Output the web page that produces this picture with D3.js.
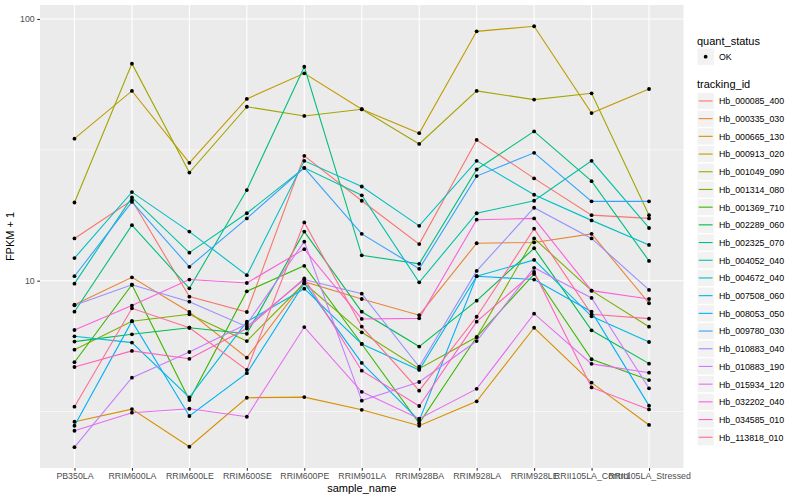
<!DOCTYPE html>
<html>
<head>
<meta charset="utf-8">
<script src="https://cdn.jsdelivr.net/npm/d3@7/dist/d3.min.js"></script>
<style>
  html, body { margin: 0; padding: 0; background: #ffffff; }
  svg { display: block; font-family: "Liberation Sans", Arial, Helvetica, sans-serif; }
</style>
</head>
<body>
<svg id="chart" width="800" height="500"></svg>
<script>
// ---------------- data ----------------
const samples = ["PB350LA", "RRIM600LA", "RRIM600LE", "RRIM600SE", "RRIM600PE", "RRIM901LA",
                 "RRIM928BA", "RRIM928LA", "RRIM928LE", "RRII105LA_Control", "RRII105LA_Stressed"];

const trackingIds = ["Hb_000085_400", "Hb_000335_030", "Hb_000665_130", "Hb_000913_020", "Hb_001049_090",
                     "Hb_001314_080", "Hb_001369_710", "Hb_002289_060", "Hb_002325_070", "Hb_004052_040",
                     "Hb_004672_040", "Hb_007508_060", "Hb_008053_050", "Hb_009780_030", "Hb_010883_040",
                     "Hb_010883_190", "Hb_015934_120", "Hb_032202_040", "Hb_034585_010", "Hb_113818_010"];

// FPKM + 1 per sample (same order as samples)
const hb000085_400 = [14.5, 20.3, 8.69, 7.59, 30.0, 20.2, 13.8, 34.5, 24.6, 17.8, 17.3];
const hb000335_030 = [8.10, 10.3, 7.59, 5.08, 9.91, 8.51, 7.38, 13.9, 14.0, 15.1, 8.20];
const hb000665_130 = [2.89, 3.23, 2.32, 3.57, 3.59, 3.21, 2.79, 3.46, 6.61, 4.08, 2.81];
const hb000913_020 = [34.9, 53.1, 28.2, 49.5, 62.0, 45.2, 36.6, 89.7, 93.8, 43.7, 54.0];
const hb001049_090 = [19.9, 67.5, 25.9, 46.2, 42.6, 45.2, 33.3, 53.1, 49.2, 52.0, 17.8];
const hb001314_080 = [5.45, 7.00, 7.44, 5.88, 9.77, 6.35, 4.61, 6.09, 14.5, 9.16, 6.67];
const hb001369_710 = [4.88, 9.65, 3.50, 9.11, 11.4, 5.73, 2.85, 6.09, 10.6, 5.01, 4.17];
const hb002289_060 = [5.85, 6.24, 6.61, 6.27, 15.4, 7.61, 5.60, 8.39, 13.3, 6.46, 4.82];
const hb002325_070 = [7.61, 16.3, 9.35, 22.2, 65.7, 12.5, 11.6, 26.6, 37.2, 24.0, 11.9];
const hb004052_040 = [9.74, 20.8, 12.8, 18.1, 27.0, 21.2, 9.86, 18.1, 20.2, 28.7, 15.9];
const hb004672_040 = [12.2, 21.8, 15.4, 10.5, 28.7, 22.9, 16.2, 28.7, 21.3, 17.0, 13.7];
const hb007508_060 = [6.13, 5.80, 3.58, 6.97, 9.32, 5.73, 4.56, 10.4, 12.0, 7.31, 5.83];
const hb008053_050 = [2.79, 7.00, 3.04, 4.43, 9.77, 4.85, 2.92, 10.4, 10.1, 7.61, 3.33];
const hb009780_030 = [10.4, 20.0, 11.3, 17.3, 27.0, 15.1, 11.1, 25.1, 30.8, 20.1, 20.1];
const hb010883_040 = [8.05, 9.65, 8.31, 6.67, 10.1, 8.92, 4.69, 10.9, 19.0, 14.5, 9.22];
const hb010883_190 = [2.31, 4.26, 5.34, 6.83, 14.1, 3.48, 4.10, 5.88, 11.2, 8.59, 3.88];
const hb015934_120 = [2.67, 3.13, 3.24, 3.02, 6.65, 3.76, 2.97, 3.86, 7.48, 4.81, 4.45];
const hb032202_040 = [6.48, 8.03, 10.1, 9.80, 13.2, 7.14, 7.18, 17.1, 17.3, 9.16, 8.51];
const hb034585_010 = [4.68, 5.39, 5.03, 6.56, 10.2, 4.53, 3.32, 6.97, 10.8, 3.91, 3.22];
const hb113818_010 = [3.30, 7.84, 6.61, 4.56, 16.7, 6.67, 3.80, 7.28, 15.8, 7.44, 7.16];

const seriesValues = [hb000085_400, hb000335_030, hb000665_130, hb000913_020, hb001049_090,
                      hb001314_080, hb001369_710, hb002289_060, hb002325_070, hb004052_040,
                      hb004672_040, hb007508_060, hb008053_050, hb009780_030, hb010883_040,
                      hb010883_190, hb015934_120, hb032202_040, hb034585_010, hb113818_010];

const yTicks = [10, 100];
const yMinor = [3.1623, 31.623];
const quantStatus = ["OK"];

const palette = ["#F8766D", "#EA8331", "#D89000", "#C09B00", "#A3A500", "#7CAE00", "#39B600", "#00BB4E",
                 "#00BF7D", "#00C1A3", "#00BFC4", "#00BAE0", "#00B0F6", "#35A2FF", "#9590FF", "#C77CFF",
                 "#E76BF3", "#FA62DB", "#FF62BC", "#FF6C91"];

// ---------------- layout ----------------
const svg = d3.select("#chart");
const panel = { left: 40, right: 683.5, top: 5, bottom: 468 };

const x = d3.scalePoint().domain(samples).range([panel.left, panel.right]).padding(0.6);
const y = d3.scaleLog().domain([1.924, 113.1]).range([panel.bottom, panel.top]);
const color = d3.scaleOrdinal().domain(trackingIds).range(palette);

// panel background
svg.append("rect")
  .attr("x", panel.left).attr("y", panel.top)
  .attr("width", panel.right - panel.left).attr("height", panel.bottom - panel.top)
  .attr("fill", "#EBEBEB");

// grid
const grid = svg.append("g");
grid.selectAll("line.minor").data(yMinor).enter().append("line")
  .attr("x1", panel.left).attr("x2", panel.right)
  .attr("y1", d => y(d)).attr("y2", d => y(d))
  .attr("stroke", "#ffffff").attr("stroke-width", 0.55);
grid.selectAll("line.majy").data(yTicks).enter().append("line")
  .attr("x1", panel.left).attr("x2", panel.right)
  .attr("y1", d => y(d)).attr("y2", d => y(d))
  .attr("stroke", "#ffffff").attr("stroke-width", 1.1);
grid.selectAll("line.majx").data(samples).enter().append("line")
  .attr("x1", d => x(d)).attr("x2", d => x(d))
  .attr("y1", panel.top).attr("y2", panel.bottom)
  .attr("stroke", "#ffffff").attr("stroke-width", 1.1);

// series
const series = trackingIds.map((id, i) => ({ id, values: seriesValues[i] }));
const line = d3.line().x((d, i) => x(samples[i])).y(d => y(d));

svg.append("g").selectAll("path").data(series).enter().append("path")
  .attr("d", d => line(d.values))
  .attr("fill", "none")
  .attr("stroke", d => color(d.id))
  .attr("stroke-width", 1.1);

const pts = [];
series.forEach(s => s.values.forEach((v, i) => pts.push({ s: samples[i], v })));
svg.append("g").selectAll("circle").data(pts).enter().append("circle")
  .attr("cx", d => x(d.s)).attr("cy", d => y(d.v))
  .attr("r", 1.9).attr("fill", "#000000");

// axes
const yAxis = d3.axisLeft(y).tickValues(yTicks).tickFormat(d3.format("d")).tickSize(2.75).tickPadding(2.5);
const gy = svg.append("g").attr("transform", `translate(${panel.left},0)`).call(yAxis);
const xAxis = d3.axisBottom(x).tickSize(2.75).tickPadding(2.5);
const gx = svg.append("g").attr("transform", `translate(0,${panel.bottom})`).call(xAxis);
[gy, gx].forEach(g => {
  g.select(".domain").remove();
  g.selectAll(".tick line").attr("stroke", "#333333").attr("stroke-width", 1.1);
  g.selectAll(".tick text").attr("fill", "#4D4D4D").style("font-size", "8.8px")
    .style("font-family", "'Liberation Sans', Arial, sans-serif");
});

// axis titles
svg.append("text").attr("x", (panel.left + panel.right) / 2).attr("y", 492)
  .attr("text-anchor", "middle").style("font-size", "11px").attr("fill", "#000")
  .text("sample_name");
svg.append("text").attr("transform", `translate(14,${(panel.top + panel.bottom) / 2}) rotate(-90)`)
  .attr("text-anchor", "middle").style("font-size", "11px").attr("fill", "#000")
  .text("FPKM + 1");

// legends
const lg = svg.append("g").attr("transform", "translate(697,0)");
lg.append("text").attr("x", 0).attr("y", 45).style("font-size", "11px").text("quant_status");
const qk = lg.selectAll("g.q").data(quantStatus).enter().append("g")
  .attr("transform", (d, i) => `translate(0,${48 + i * 17.3})`);
qk.append("rect").attr("width", 17.3).attr("height", 17.3).attr("fill", "#F2F2F2").attr("stroke", "#fff");
qk.append("circle").attr("cx", 8.65).attr("cy", 8.65).attr("r", 1.9).attr("fill", "#000");
qk.append("text").attr("x", 22).attr("y", 12).style("font-size", "8.8px").attr("fill", "#000").text(d => d);

lg.append("text").attr("x", 0).attr("y", 88).style("font-size", "11px").text("tracking_id");
const tk = lg.selectAll("g.t").data(trackingIds).enter().append("g")
  .attr("transform", (d, i) => `translate(0,${92.3 + i * 17.7})`);
tk.append("rect").attr("width", 17.3).attr("height", 17.3).attr("fill", "#F2F2F2").attr("stroke", "#fff");
tk.append("line").attr("x1", 1.7).attr("x2", 15.6).attr("y1", 8.65).attr("y2", 8.65)
  .attr("stroke", d => color(d)).attr("stroke-width", 1.1);
tk.append("text").attr("x", 22).attr("y", 12).style("font-size", "8.8px").attr("fill", "#000").text(d => d);
</script>
</body>
</html>
